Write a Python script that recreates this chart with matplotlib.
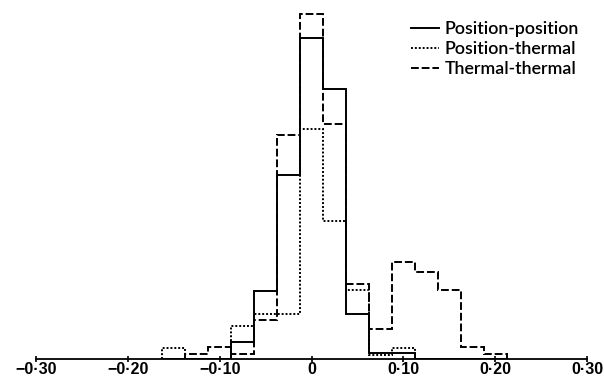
import matplotlib.pyplot as plt
import numpy as np

# bin edges of the histograms (width 0.025, centred on multiples of 0.025)
edges = np.round(np.arange(-0.1625, 0.2126, 0.025), 4)

# relative frequencies
pos_pos = [0, 0, 0, 17, 68, 184, 321, 270, 45, 6, 6, 0, 0, 0, 0]
pos_therm = [11, 0, 0, 33, 45, 45, 230, 138, 69, 4, 11, 0, 0, 0, 0]
therm_therm = [0, 5, 12, 5, 39, 224, 345, 235, 75, 30, 97, 87, 69, 12, 5]

tick_vals = [-0.30, -0.20, -0.10, 0, 0.10, 0.20, 0.30]
tick_text = ['\u22120\u00b730', '\u22120\u00b720', '\u22120\u00b710', '0',
             '0\u00b710', '0\u00b720', '0\u00b730']

fig = plt.figure(figsize=(6.04, 3.8), dpi=100)
ax = fig.add_axes([36 / 604, 21 / 380, 551 / 604, 359 / 380])

ax.stairs(pos_pos, edges, baseline=0, color='black', lw=1.4,
          label='Position-position')
ax.stairs(pos_therm, edges, baseline=0, color='black', lw=1.4,
          linestyle=(0, (1, 1)), label='Position-thermal')
ax.stairs(therm_therm, edges, baseline=0, color='black', lw=1.4,
          linestyle=(0, (4, 1.5)), label='Thermal-thermal')

ax.set_xlim(-0.30, 0.30)
ax.set_ylim(0, 359)
for s in ['left', 'top', 'right']:
    ax.spines[s].set_visible(False)
ax.spines['bottom'].set_linewidth(1.3)
ax.set_yticks([])
ax.set_xticks(tick_vals)
ax.set_xticklabels(tick_text, family=['Liberation Sans Narrow', 'Liberation Sans'],
                   fontsize=11.5, weight='bold')
ax.tick_params(axis='x', direction='inout', length=5, width=1.2, pad=0)

leg = ax.legend(loc='upper left', bbox_to_anchor=(411 / 604, 1 - 21 / 380),
                bbox_transform=fig.transFigure, frameon=False,
                prop={'family': 'Lato', 'size': 12.8, 'weight': 'semibold'},
                handlelength=1.6, handletextpad=0.3, labelspacing=0.22,
                borderaxespad=0, borderpad=0)

fig.savefig('out.png', dpi=100)
